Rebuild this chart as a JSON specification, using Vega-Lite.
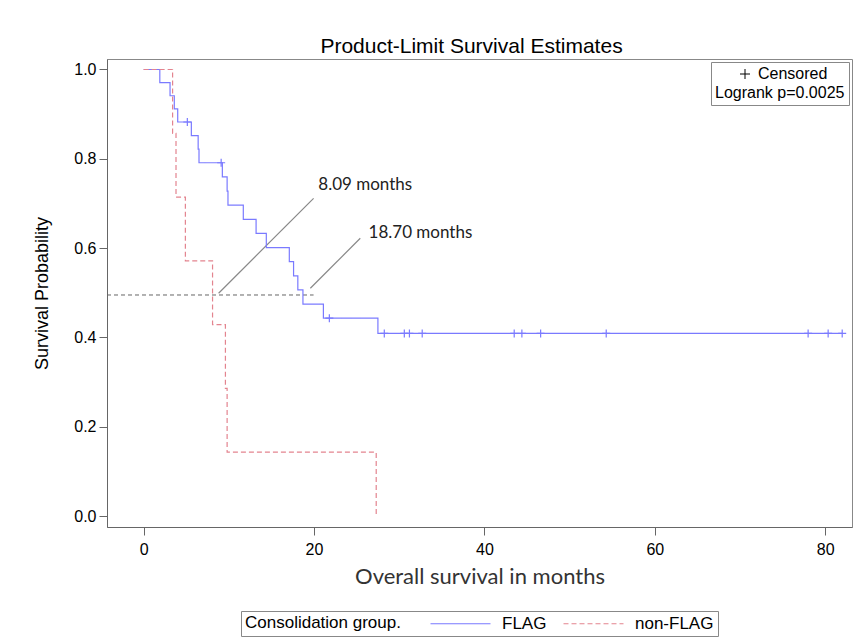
{
  "$schema": "https://vega.github.io/schema/vega-lite/v6.json",
  "width": 745,
  "height": 468,
  "autosize": {"type": "none"},
  "padding": {"left": 107, "top": 59, "right": 3, "bottom": 114},
  "background": "white",
  "title": {
    "text": "Product-Limit Survival Estimates",
    "font": "Liberation Sans",
    "fontSize": 21,
    "fontWeight": "normal",
    "color": "black",
    "anchor": "middle",
    "baseline": "bottom",
    "offset": -19,
    "dx": -8
  },
  "datasets": {
    "curves": [
      {"group": "FLAG", "month": 0, "surv": 1.0},
      {"group": "FLAG", "month": 1.9, "surv": 0.9706},
      {"group": "FLAG", "month": 3.1, "surv": 0.9412},
      {"group": "FLAG", "month": 3.6, "surv": 0.9118},
      {"group": "FLAG", "month": 4.0, "surv": 0.8824},
      {"group": "FLAG", "month": 5.6, "surv": 0.8519},
      {"group": "FLAG", "month": 6.4, "surv": 0.8215},
      {"group": "FLAG", "month": 6.5, "surv": 0.7911},
      {"group": "FLAG", "month": 9.24, "surv": 0.7594},
      {"group": "FLAG", "month": 9.8, "surv": 0.7278},
      {"group": "FLAG", "month": 9.9, "surv": 0.6961},
      {"group": "FLAG", "month": 11.7, "surv": 0.6645},
      {"group": "FLAG", "month": 13.2, "surv": 0.6328},
      {"group": "FLAG", "month": 14.4, "surv": 0.6012},
      {"group": "FLAG", "month": 17.1, "surv": 0.5696},
      {"group": "FLAG", "month": 17.6, "surv": 0.5379},
      {"group": "FLAG", "month": 18.1, "surv": 0.5063},
      {"group": "FLAG", "month": 18.7, "surv": 0.4747},
      {"group": "FLAG", "month": 21.1, "surv": 0.443},
      {"group": "FLAG", "month": 27.5, "surv": 0.409},
      {"group": "FLAG", "month": 82.0, "surv": 0.409},
      {"group": "non-FLAG", "month": 0, "surv": 1.0},
      {"group": "non-FLAG", "month": 3.4, "surv": 0.8571},
      {"group": "non-FLAG", "month": 3.8, "surv": 0.7143},
      {"group": "non-FLAG", "month": 4.9, "surv": 0.5714},
      {"group": "non-FLAG", "month": 8.09, "surv": 0.4286},
      {"group": "non-FLAG", "month": 9.6, "surv": 0.2857},
      {"group": "non-FLAG", "month": 9.8, "surv": 0.1429},
      {"group": "non-FLAG", "month": 27.3, "surv": 0.0}
    ],
    "censor": [
      {"month": 5.13, "surv": 0.8824, "mark": "Censored"},
      {"month": 9.1, "surv": 0.7911, "mark": "Censored"},
      {"month": 21.8, "surv": 0.443, "mark": "Censored"},
      {"month": 28.25, "surv": 0.409, "mark": "Censored"},
      {"month": 30.6, "surv": 0.409, "mark": "Censored"},
      {"month": 31.2, "surv": 0.409, "mark": "Censored"},
      {"month": 32.7, "surv": 0.409, "mark": "Censored"},
      {"month": 43.5, "surv": 0.409, "mark": "Censored"},
      {"month": 44.4, "surv": 0.409, "mark": "Censored"},
      {"month": 46.6, "surv": 0.409, "mark": "Censored"},
      {"month": 54.3, "surv": 0.409, "mark": "Censored"},
      {"month": 78.0, "surv": 0.409, "mark": "Censored"},
      {"month": 80.35, "surv": 0.409, "mark": "Censored"},
      {"month": 82.0, "surv": 0.409, "mark": "Censored"}
    ],
    "median": [
      {"month": -4.3, "month2": 19.95, "surv": 0.495}
    ],
    "pointers": [
      {"month": 8.8, "surv": 0.499, "month2": 19.95, "surv2": 0.7115},
      {"month": 19.57, "surv": 0.51, "month2": 25.43, "surv2": 0.622}
    ],
    "labels": [
      {"month": 20.5, "surv": 0.741, "label": "8.09 months"},
      {"month": 26.4, "surv": 0.634, "label": "18.70 months"}
    ]
  },
  "encoding": {
    "x": {
      "field": "month",
      "type": "quantitative",
      "title": "Overall survival in months",
      "scale": {"domain": [-4.3, 83.15], "nice": false, "zero": false},
      "axis": {
        "values": [0, 20, 40, 60, 80],
        "grid": false,
        "labelFont": "Liberation Sans",
        "labelFontSize": 16,
        "labelColor": "black",
        "labelPadding": 6,
        "tickSize": 8,
        "tickColor": "#666",
        "domainColor": "#666",
        "titleFont": "Lato",
        "titleFontSize": 22,
        "titleFontWeight": "normal",
        "titleColor": "#333",
        "titlePadding": 9
      }
    },
    "y": {
      "field": "surv",
      "type": "quantitative",
      "title": "Survival Probability",
      "scale": {"domain": [-0.0246, 1.0235], "nice": false, "zero": false},
      "axis": {
        "values": [0, 0.2, 0.4, 0.6, 0.8, 1.0],
        "format": ".1f",
        "grid": false,
        "labelFont": "Liberation Sans",
        "labelFontSize": 16,
        "labelColor": "black",
        "labelPadding": 3,
        "tickSize": 8,
        "tickColor": "#666",
        "domainColor": "#666",
        "titleFont": "Liberation Sans",
        "titleFontSize": 18,
        "titleFontWeight": "normal",
        "titleColor": "black",
        "titlePadding": 22
      }
    }
  },
  "layer": [
    {
      "data": {"name": "median"},
      "mark": {"type": "rule", "color": "#666", "strokeDash": [4, 3], "strokeWidth": 1},
      "encoding": {"x2": {"field": "month2"}}
    },
    {
      "data": {"name": "pointers"},
      "mark": {"type": "rule", "color": "#888", "strokeWidth": 1.2},
      "encoding": {"x2": {"field": "month2"}, "y2": {"field": "surv2"}}
    },
    {
      "data": {"name": "curves"},
      "mark": {"type": "line", "interpolate": "step-after", "strokeWidth": 1.2},
      "encoding": {
        "color": {
          "field": "group",
          "type": "nominal",
          "title": "Consolidation group.",
          "scale": {"domain": ["FLAG", "non-FLAG"], "range": ["#7a7aff", "#e3848f"]},
          "legend": {
            "orient": "bottom",
            "direction": "horizontal",
            "titleOrient": "left",
            "titleFont": "Liberation Sans",
            "titleFontSize": 17,
            "titleFontWeight": "normal",
            "titleColor": "black",
            "titlePadding": 26,
            "titleLimit": 400,
            "labelFont": "Liberation Sans",
            "labelFontSize": 17,
            "labelColor": "black",
            "labelLimit": 200,
            "symbolType": "M-6,0H6",
            "symbolSize": 100,
            "symbolOffset": 25,
            "labelOffset": 33,
            "columnPadding": 13,
            "symbolStrokeWidth": 1.2,
            "strokeColor": "#888",
            "padding": 4,
            "offset": 24
          }
        },
        "strokeDash": {
          "field": "group",
          "type": "nominal",
          "title": "Consolidation group.",
          "scale": {"domain": ["FLAG", "non-FLAG"], "range": [[1, 0], [5, 3]]},
          "legend": {
            "orient": "bottom",
            "direction": "horizontal",
            "titleOrient": "left",
            "titleFont": "Liberation Sans",
            "titleFontSize": 17,
            "titleFontWeight": "normal",
            "titleColor": "black",
            "titlePadding": 26,
            "titleLimit": 400,
            "labelFont": "Liberation Sans",
            "labelFontSize": 17,
            "labelColor": "black",
            "labelLimit": 200,
            "symbolType": "M-6,0H6",
            "symbolSize": 100,
            "symbolOffset": 25,
            "labelOffset": 33,
            "columnPadding": 13,
            "symbolStrokeWidth": 1.2,
            "strokeColor": "#888",
            "padding": 4,
            "offset": 24
          }
        }
      }
    },
    {
      "data": {"name": "censor"},
      "mark": {"type": "point", "filled": false, "color": "#7a7aff", "strokeWidth": 1.2, "size": 64, "opacity": 1},
      "encoding": {
        "shape": {
          "field": "mark",
          "type": "nominal",
          "title": "Logrank p=0.0025",
          "scale": {"domain": ["Censored"], "range": ["M0,-1V1M-1,0H1"]},
          "legend": {
            "orient": "top-right",
            "offset": 3,
            "titleOrient": "bottom",
            "titleFont": "Liberation Sans",
            "titleFontSize": 16,
            "titleFontWeight": "normal",
            "titleColor": "black",
            "titlePadding": 3,
            "labelFont": "Liberation Sans",
            "labelFontSize": 16,
            "labelColor": "black",
            "labelOffset": 5,
            "symbolSize": 100,
            "symbolStrokeColor": "black",
            "symbolStrokeWidth": 1,
            "symbolOffset": 22,
            "strokeColor": "#888",
            "fillColor": "white",
            "padding": 4
          }
        }
      }
    },
    {
      "data": {"name": "labels"},
      "mark": {"type": "text", "align": "left", "baseline": "middle", "font": "Lato", "fontSize": 17, "color": "#222"},
      "encoding": {"text": {"field": "label", "type": "nominal"}}
    }
  ],
  "config": {
    "view": {"stroke": "#888"},
    "legend": {"layout": {"bottom": {"anchor": "middle"}}}
  }
}
